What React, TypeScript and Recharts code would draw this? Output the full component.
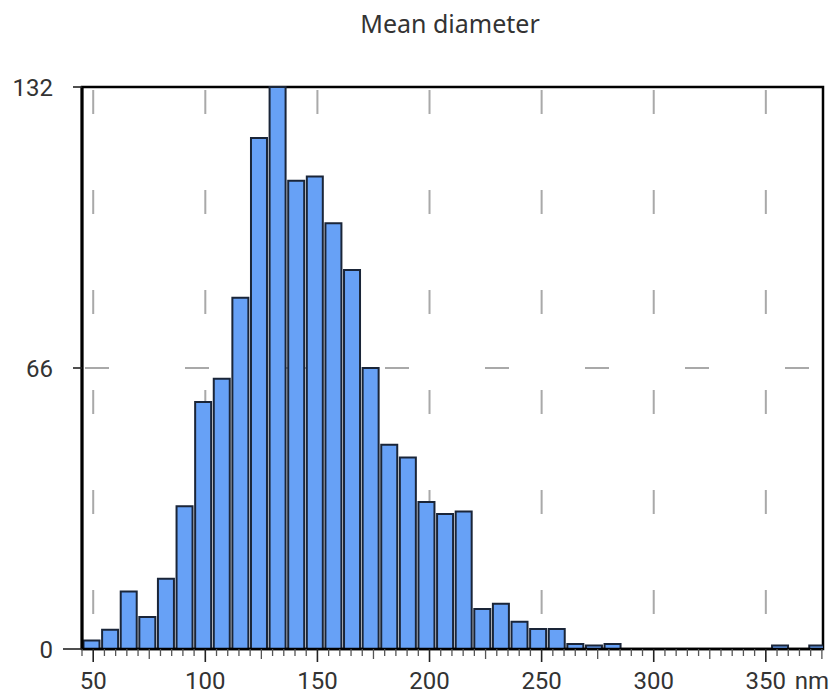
import React from "react";
import {
  BarChart,
  Bar,
  XAxis,
  YAxis,
  CartesianGrid,
  ReferenceArea,
} from "recharts";

// bin centres (nm), bins are ~8.3 nm wide starting at 45 nm
const BIN_CENTERS = [
  49.15, 57.45, 65.75, 74.05, 82.35, 90.65, 98.95, 107.25, 115.55, 123.85,
  132.15, 140.45, 148.75, 157.05, 165.35, 173.65, 181.95, 190.25, 198.55, 206.85,
  215.15, 223.45, 231.75, 240.05, 248.35, 256.65, 264.95, 273.25, 281.55, 289.85,
  298.15, 306.45, 314.75, 323.05, 331.35, 339.65, 347.95, 356.25, 364.55, 372.85,
];

const COUNTS = [
  2, 4.5, 13.5, 7.5, 16.5, 33.5, 58, 63.5, 82.5, 120,
  132, 110, 111, 100, 89, 66, 48, 45, 34.5, 31.7,
  32.3, 9.4, 10.6, 6.4, 4.7, 4.7, 1.2, 0.8, 1.2, 0,
  0, 0, 0, 0, 0, 0, 0, 0.8, 0, 0.8,
];

const X_DOMAIN: [number, number] = [45, 375.5];
const Y_TICKS = [0, 66, 132];
const MAJOR_TICKS = [50, 100, 150, 200, 250, 300, 350];
const MINOR_TICKS = [
  45, 50, 55, 60, 65, 70, 75, 80, 85, 90, 95, 100, 105, 110, 115, 120, 125, 130,
  135, 140, 145, 150, 155, 160, 165, 170, 175, 180, 185, 190, 195, 200, 205, 210,
  215, 220, 225, 230, 235, 240, 245, 250, 255, 260, 265, 270, 275, 280, 285, 290,
  295, 300, 305, 310, 315, 320, 325, 330, 335, 340, 345, 350, 355, 360, 365, 370,
  375,
];
const UNIT = "nm";

const data = BIN_CENTERS.map((mid, i) => ({ mid, count: COUNTS[i] }));

const FONT = "Roboto, sans-serif";
const TEXT = "#333";

// grid only on the labelled ticks, not on every minor tick
function majorGridX({ xAxis }: any) {
  if (!xAxis || !xAxis.scale) return [];
  const s = xAxis.scale;
  return MAJOR_TICKS.map((v) => (typeof s === "function" ? s(v) : s.map(v)));
}

function XTick(props: any) {
  const { x, y, payload } = props;
  const v = payload.value;
  const major = MAJOR_TICKS.includes(v);
  const medium = v % 50 === 25;
  const len = major ? 13 : medium ? 10 : 7;
  const last = v === MAJOR_TICKS[MAJOR_TICKS.length - 1];
  return (
    <g>
      <line
        x1={x}
        y1={y}
        x2={x}
        y2={y + len}
        stroke={major ? "#222" : "#555"}
        strokeWidth={major ? 1.6 : 1.3}
      />
      {major && (
        <text x={x} y={y + 40} textAnchor="middle" fill={TEXT} fontSize={24} fontFamily={FONT}>
          {v}
        </text>
      )}
      {last && (
        <text x={x + 29} y={y + 40} textAnchor="start" fill={TEXT} fontSize={24} fontFamily={FONT}>
          {UNIT}
        </text>
      )}
    </g>
  );
}

function YTick(props: any) {
  const { x, y, payload } = props;
  const v = payload.value;
  const len = v === 0 ? 19 : 9;
  return (
    <g>
      <line x1={x - len} y1={y} x2={x} y2={y} stroke="#222" strokeWidth={1.6} />
      <text
        x={x - 29}
        y={y}
        dy="0.36em"
        textAnchor="end"
        fill={TEXT}
        fontSize={24}
        fontFamily={FONT}
      >
        {v}
      </text>
    </g>
  );
}

export default function App() {
  return (
    <div style={{ position: "absolute", left: 0, top: 0, width: 835, height: 695, background: "#fff" }}>
      <div
        style={{
          position: "absolute",
          left: 450,
          top: 6,
          transform: "translateX(-50%)",
          fontFamily: "'Noto Sans', sans-serif",
          fontSize: 25,
          color: TEXT,
          whiteSpace: "nowrap",
        }}
      >
        Mean diameter
      </div>
      <BarChart
        width={835}
        height={695}
        data={data}
        margin={{ top: 87, right: 12, bottom: 0, left: 0 }}
        barCategoryGap={1.5}
      >
        <CartesianGrid
          stroke="#a9a9a9"
          strokeWidth={2}
          strokeDasharray="0 3 24 73"
          verticalCoordinatesGenerator={majorGridX}
        />
        <XAxis
          dataKey="mid"
          type="number"
          domain={X_DOMAIN}
          allowDataOverflow
          ticks={MINOR_TICKS}
          interval={0}
          height={46}
          tickSize={0}
          tickMargin={0}
          tickLine={false}
          tick={<XTick />}
          axisLine={{ stroke: "#000", strokeWidth: 2.5 }}
        />
        <YAxis
          type="number"
          domain={[0, 132]}
          ticks={Y_TICKS}
          interval={0}
          width={82}
          tickSize={0}
          tickMargin={0}
          tickLine={false}
          tick={<YTick />}
          axisLine={{ stroke: "#000", strokeWidth: 3 }}
        />
        <Bar
          dataKey="count"
          fill="#67a1f6"
          stroke="#1a2538"
          strokeWidth={2}
          isAnimationActive={false}
        />
        <ReferenceArea
          x1={X_DOMAIN[0]}
          x2={X_DOMAIN[1]}
          y1={0}
          y2={132}
          fill="none"
          stroke="#000"
          strokeWidth={2.5}
        />
      </BarChart>
    </div>
  );
}
